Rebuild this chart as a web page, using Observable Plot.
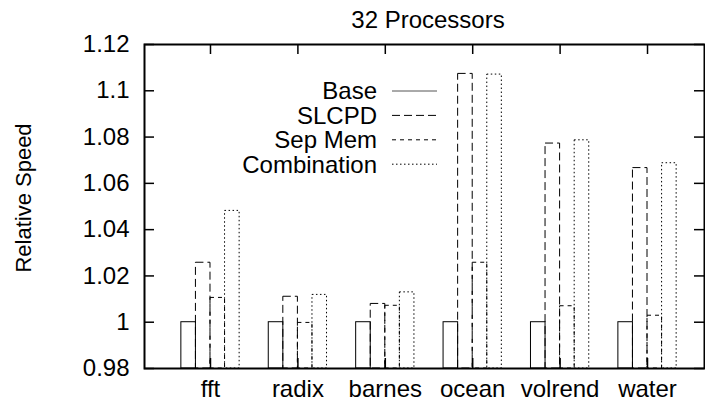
<!DOCTYPE html>
<html>
<head>
<meta charset="utf-8">
<script src="https://cdn.jsdelivr.net/npm/d3@7"></script>
<script src="https://cdn.jsdelivr.net/npm/@observablehq/plot@0.6"></script>
<style>
  html, body { margin: 0; padding: 0; background: white; }
</style>
</head>
<body>
<div id="chart"></div>
<script>
// ---- data ----
const categories = ["fft", "radix", "barnes", "ocean", "volrend", "water"];
const seriesNames = ["Base", "SLCPD", "Sep Mem", "Combination"];
const baseValues = [1.0, 1.0, 1.0, 1.0, 1.0, 1.0];
const slcpdValues = [1.0257, 1.0110, 1.0079, 1.1073, 1.0772, 1.0666];
const sepMemValues = [1.0105, 0.9997, 1.0071, 1.0257, 1.0069, 1.0028];
const combinationValues = [1.0481, 1.0118, 1.0129, 1.1070, 1.0786, 1.0687];
const yTicks = [0.98, 1.0, 1.02, 1.04, 1.06, 1.08, 1.1, 1.12];
const title = "32 Processors";
const yLabel = "Relative Speed";

// ---- layout / style ----
const W = 705, H = 402;
const mL = 144, mR = 1, mT = 44, mB = 34;
const plotW = W - mL - mR, plotH = H - mT - mB;
const dashes = [null, "8,4", "4,4", "1.5,2.5"];
const allValues = [baseValues, slcpdValues, sepMemValues, combinationValues];
const idx = categories.map((_, i) => i);
const barW = 1 / 6;

const tables = allValues.map((vals, k) =>
  vals.map((v, i) => ({
    x1: i + (k - 2) * barW,
    x2: i + (k - 1) * barW,
    v,
    series: seriesNames[k],
    cat: categories[i]
  }))
);

const barMarks = tables.map((rows, k) =>
  Plot.rect(rows, {
    x1: "x1", x2: "x2", y1: yTicks[0], y2: "v",
    fill: "none", stroke: "black", strokeWidth: 1,
    strokeDasharray: dashes[k]
  })
);

const legendMark = () => {
  const g = d3.create("svg:g");
  seriesNames.forEach((s, i) => {
    const yy = 91 + i * 24.4;
    g.append("text")
      .attr("x", 377).attr("y", yy).attr("dy", "0.35em")
      .attr("text-anchor", "end").attr("fill", "black")
      .text(s);
    g.append("line")
      .attr("x1", 392).attr("x2", 437).attr("y1", yy).attr("y2", yy)
      .attr("stroke", i === 0 ? "#555" : "black").attr("stroke-width", 1)
      .attr("stroke-dasharray", dashes[i]);
  });
  return g.node();
};

const textMark = () => {
  const g = d3.create("svg:g");
  g.append("text")
    .attr("x", 428).attr("y", 28)
    .attr("text-anchor", "middle").attr("fill", "black")
    .text(title);
  g.append("text")
    .attr("transform", "translate(31,198) rotate(-90)")
    .attr("text-anchor", "middle").attr("fill", "black")
    .style("font-size", "22px")
    .text(yLabel);
  return g.node();
};

const chart = Plot.plot({
  width: W,
  height: H,
  marginLeft: mL,
  marginRight: mR,
  marginTop: mT,
  marginBottom: mB,
  style: {
    fontFamily: "'Liberation Sans', Arial, Helvetica, sans-serif",
    fontSize: "24px",
    background: "white",
    color: "black"
  },
  x: { type: "linear", domain: [-0.755, 5.652] },
  y: { domain: [0.98, 1.12] },
  marks: [
    ...barMarks,
    Plot.tickY(yTicks, { y: d => d, insetRight: plotW - 10, stroke: "black", strokeWidth: 1.5 }),
    Plot.tickY(yTicks, { y: d => d, insetLeft: plotW - 10, stroke: "black", strokeWidth: 1.5 }),
    Plot.tickX(idx, { x: d => d, insetBottom: plotH - 10, stroke: "black", strokeWidth: 1.5 }),
    Plot.tickX(idx, { x: d => d, insetTop: plotH - 10, stroke: "black", strokeWidth: 1.5 }),
    Plot.frame({ stroke: "black", strokeWidth: 2 }),
    Plot.axisY({
      ticks: yTicks, tickSize: 0, tickPadding: 15, label: null,
      tickFormat: d => String(+d.toFixed(2))
    }),
    Plot.axisX({
      ticks: idx, tickSize: 0, tickPadding: 11, label: null,
      tickFormat: i => categories[i]
    }),
    legendMark,
    textMark
  ]
});

document.getElementById("chart").appendChild(chart);
</script>
</body>
</html>
